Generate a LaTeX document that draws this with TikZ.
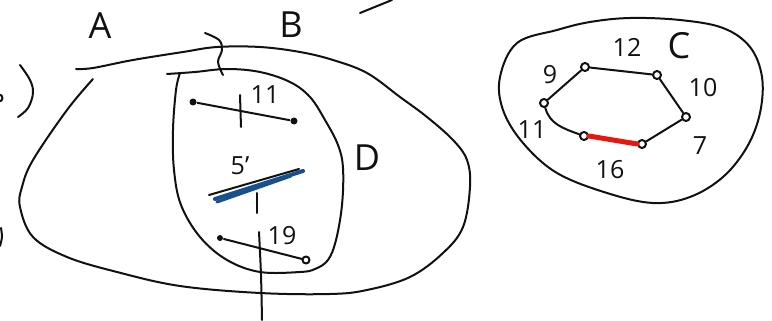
\documentclass[tikz,border=0pt]{standalone}
\usepackage{fontspec}
\setmainfont{Open Sans}
\usetikzlibrary{positioning}
\definecolor{ink}{HTML}{111111}
\definecolor{pen}{HTML}{17508F}
\definecolor{marker}{HTML}{E8160F}

\begin{document}
\begin{tikzpicture}[x=1pt,y=-1pt,line width=2pt,line cap=round,line join=round,ink,
    big/.style={font=\fontsize{36}{36}\selectfont},
    num/.style={font=\fontsize{25}{25}\selectfont},
    dot/.style={circle,draw=ink,fill=white,line width=2pt,inner sep=0pt,minimum size=8pt},
    fdot/.style={circle,fill=ink,inner sep=0pt,minimum size=7pt}]
  \useasboundingbox (0,0) rectangle (772,321);
  \draw plot[smooth,tension=.6] coordinates {
      (93,79)(67,110)(33,160)(22,187)(20,207)(33,237)(67,257)(117,272)(180,286)
      (260,293)(330,294)(367,290)(410,277)(443,253)(463,227)(470,187)(467,160)
      (453,140)(427,117)(400,97)(367,73)(333,60)(300,52)(260,47)(217,47)(183,52)
      (133,60)(93,68)(76,69)};
  \draw plot[smooth,tension=.6] coordinates {
      (180,73)(176,90)(173,130)(174,170)(181,205)(200,237)(227,260)(260,272)
      (300,272)(315,269)(328,260)(336,240)(342,205)(343,168)(338,145)(325,120)
      (310,97)(290,82)(260,72)(227,69)(195,72)(167,74)};
  \draw plot[smooth,tension=.6] coordinates {(205,33)(219,40)(222,50)(218,62)(223,75)};
  \draw plot[smooth cycle,tension=.6] coordinates {
      (517,43)(557,30)(590,22)(630,18)(680,20)(723,28)(750,47)(762,77)(760,113)
      (747,147)(723,177)(690,197)(653,203)(607,193)(557,173)(523,143)(503,110)(500,77)};
  \draw plot[smooth,tension=.6] coordinates {(20,65)(30,80)(33,93)(28,108)(18,117)};
  \draw (-1,98) circle (3.5);
  \draw plot[smooth] coordinates {(1,228)(2,237)(0,246)};
  \draw (360,13) -- (392,0);
  \node[big] (lA) at (100,26) {A};
  \node[big] (lB) at (291,25) {B};
  \node[big] (lD) at (367,158) {D};
  \node[big] (lC) at (679,46) {C};
  \node[fdot] (u1) at (193,102) {};
  \node[fdot] (u2) at (294,121) {};
  \draw (u1) -- (u2);
  \draw (240,95) -- (241,127);
  \node[num] (l11) at (265,95) {11};
  \coordinate (v1) at (209,195);
  \coordinate (v2) at (299,169);
  \draw[pen,line width=4pt] ([shift={(6,4)}]v1) -- ([shift={(4,2)}]v2);
  \draw[pen,line width=3pt] ([shift={(8,7)}]v1) -- ([shift={(-8,7)}]v2);
  \draw (v1) -- (v2);
  \draw (257,193) -- (257,213);
  \node[num] (l5) at (240,166) {5'};
  \node[fdot,minimum size=6pt] (w1) at (220,238) {};
  \node[dot,minimum size=7pt] (w2) at (306,260) {};
  \draw (w1) -- (w2);
  \draw plot[smooth] coordinates {(259,232)(261,275)(262,320)};
  \node[num] (l19) at (282,236) {19};
  \node[dot] (c1) at (585,67) {};
  \node[dot] (c2) at (657,75) {};
  \node[dot] (c3) at (686,117) {};
  \node[dot] (c4) at (642,144) {};
  \node[dot] (c5) at (584,136) {};
  \node[dot] (c6) at (544,103) {};
  \draw (c6) -- (c1) -- (c2) -- (c3) -- (c4) -- (c5);
  \draw (c6) to[out=-75,in=160] (c5);
  \draw[marker,line width=5pt] (c5.east) -- (c4.west);
  \draw[marker,line width=3pt] ([shift={(6,-3)}]c5) -- ([shift={(-4,4)}]c4);
  \node[num] (n9) at (550,75) {9};
  \node[num] (n12) at (627,47) {12};
  \node[num] (n10) at (703,88) {10};
  \node[num] (n11) at (532,130) {11};
  \node[num] (n7) at (700,146) {7};
  \node[num] (n16) at (610,170) {16};
\end{tikzpicture}
\end{document}
